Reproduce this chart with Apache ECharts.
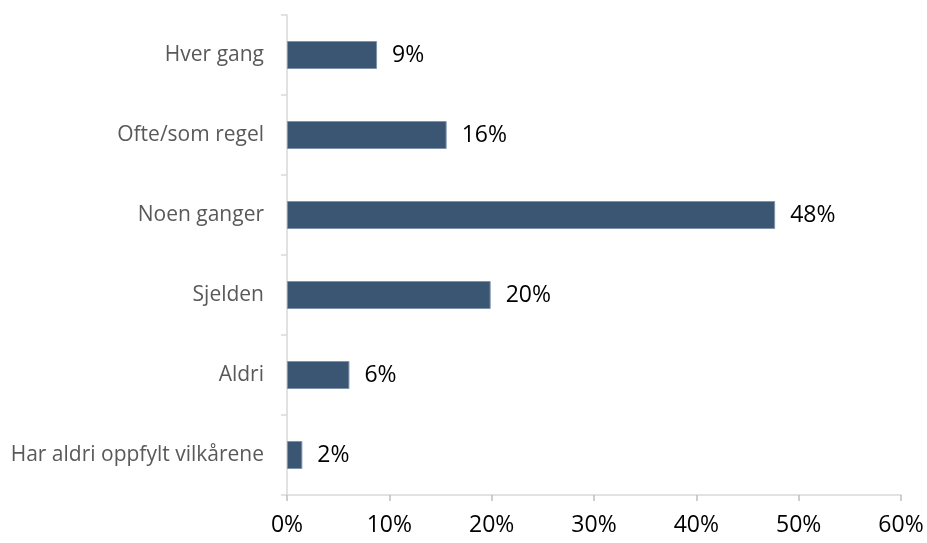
<!DOCTYPE html>
<html>
<head>
<meta charset="utf-8">
<script src="https://cdn.jsdelivr.net/npm/echarts@6/dist/echarts.min.js"></script>
<style>
  html, body { margin: 0; padding: 0; background: #fff; }
  #chart { width: 927px; height: 543px; }
</style>
</head>
<body>
<div id="chart"></div>
<script>
// kategorier, nederst først (y-aksen tegnes fra bunnen)
const categories = ['Har aldri oppfylt vilkårene', 'Aldri', 'Sjelden', 'Noen ganger', 'Ofte/som regel', 'Hver gang'];
const values = [1.5, 6.1, 19.9, 47.7, 15.6, 8.8];
const xTicks = [0, 10, 20, 30, 40, 50, 60];

const chart = echarts.init(document.getElementById('chart'));

const option = {
  animation: false,
  grid: { left: 287, right: 26, top: 15, bottom: 48, containLabel: false },
  xAxis: {
    type: 'value',
    min: xTicks[0],
    max: xTicks[xTicks.length - 1],
    interval: 10,
    splitLine: { show: false },
    axisLine: { show: true, lineStyle: { color: '#d9d9d9', width: 1.5 } },
    axisTick: { show: true, length: 6, lineStyle: { color: '#bfbfbf', width: 1.5 } },
    axisLabel: {
      formatter: v => v + '%',
      color: '#000',
      fontFamily: 'Open Sans',
      fontSize: 23,
      margin: 19
    }
  },
  yAxis: {
    type: 'category',
    data: categories,
    axisLine: { show: true, lineStyle: { color: '#d9d9d9', width: 1.5 } },
    axisTick: { show: true, length: 6, lineStyle: { color: '#d9d9d9', width: 1.5 } },
    axisLabel: {
      color: '#595959',
      fontFamily: 'Open Sans',
      fontSize: 21,
      margin: 23,
      padding: [4, 0, 0, 0]
    }
  },
  series: [{
    type: 'bar',
    data: values,
    barCategoryGap: '65%',
    itemStyle: { color: '#3a5673', borderColor: '#7d93ab', borderWidth: 1 },
    label: {
      show: true,
      position: 'right',
      distance: 15,
      padding: [3, 0, 0, 0],
      formatter: p => Math.round(p.value) + '%',
      color: '#000',
      fontFamily: 'Open Sans',
      fontSize: 23
    }
  }]
};

chart.setOption(option);
</script>
</body>
</html>
